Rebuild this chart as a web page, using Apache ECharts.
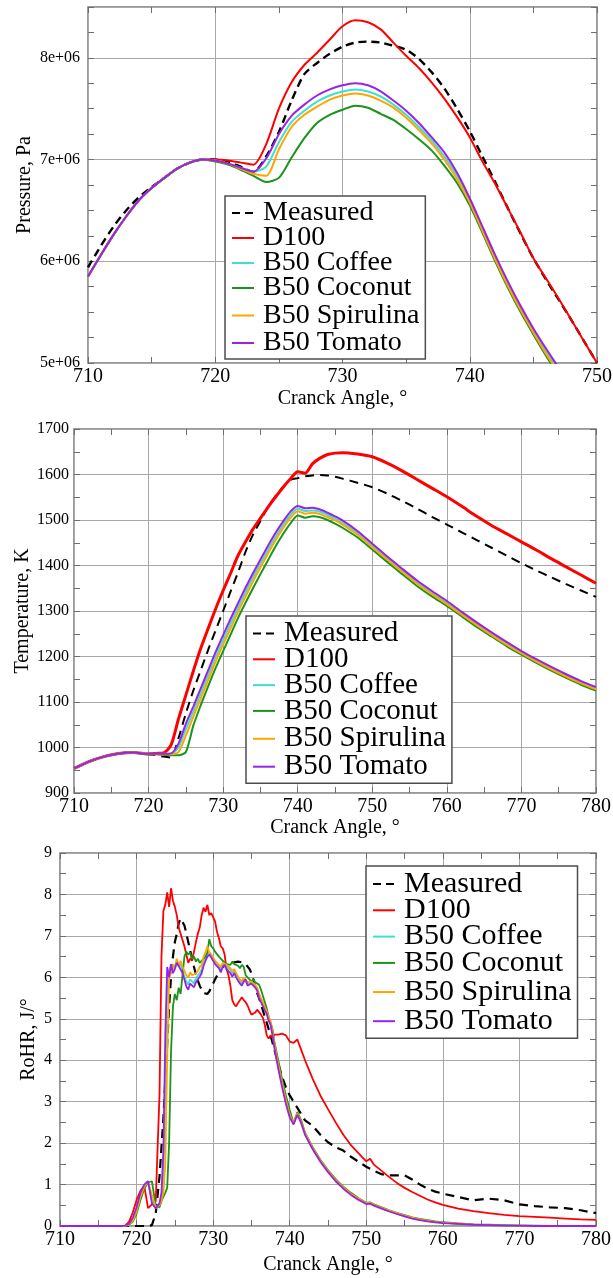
<!DOCTYPE html>
<html>
<head>
<meta charset="utf-8">
<script src="https://cdn.jsdelivr.net/npm/echarts@6/dist/echarts.min.js"></script>
<style>
  html, body { margin: 0; padding: 0; background: #ffffff; }
  #chart { width: 613px; height: 1278px; }
</style>
</head>
<body>
<div id="chart"></div>
<script>
// ---------- series names ----------
const seriesNames = ['Measured', 'D100', 'B50 Coffee', 'B50 Coconut', 'B50 Spirulina', 'B50 Tomato'];

// ---------- cylinder pressure (1e6 Pa) vs crank angle ----------
const pressureAngle = [710, 711, 712, 713, 714, 715, 716, 717, 718, 719, 720, 721, 722, 723, 724, 725, 726, 727, 728, 729,
  730, 731, 732, 733, 734, 735, 736, 737, 738, 739, 740, 741, 742, 743, 744, 745, 746, 747, 748, 749, 750];
const pressureMeasured = [5.94, 6.15, 6.34, 6.50, 6.63, 6.73, 6.82, 6.91, 6.97, 7.00, 7.00, 6.98, 6.93, 6.88, 7.03, 7.27, 7.58, 7.84, 7.95, 8.04,
  8.11, 8.15, 8.16, 8.15, 8.12, 8.08, 7.99, 7.86, 7.70, 7.50, 7.28, 7.03, 6.78, 6.52, 6.27, 6.03, 5.82, 5.62, 5.42, 5.21, 5.00];
const pressureD100 = [5.85, 6.06, 6.26, 6.44, 6.60, 6.72, 6.82, 6.91, 6.97, 7.00, 7.00, 6.99, 6.97, 6.95, 7.15, 7.50, 7.76, 7.93, 8.05, 8.18,
  8.31, 8.37, 8.35, 8.28, 8.15, 8.02, 7.90, 7.76, 7.60, 7.42, 7.22, 6.98, 6.76, 6.52, 6.28, 6.03, 5.83, 5.63, 5.42, 5.21, 5.00];
const pressureCoffee = [5.85, 6.06, 6.26, 6.44, 6.60, 6.72, 6.82, 6.91, 6.97, 7.00, 6.99, 6.96, 6.92, 6.88, 6.93, 7.17, 7.37, 7.48, 7.57, 7.63,
  7.67, 7.69, 7.67, 7.62, 7.54, 7.44, 7.32, 7.19, 7.03, 6.84, 6.60, 6.32, 6.04, 5.78, 5.54, 5.32, 5.11, 4.92, 4.72, 4.52, 4.32];
const pressureCoconut = [5.85, 6.06, 6.26, 6.44, 6.60, 6.72, 6.82, 6.91, 6.97, 7.00, 6.98, 6.95, 6.90, 6.84, 6.78, 6.82, 7.02, 7.21, 7.36, 7.44,
  7.49, 7.53, 7.51, 7.45, 7.39, 7.30, 7.20, 7.09, 6.94, 6.77, 6.55, 6.28, 6.00, 5.74, 5.50, 5.28, 5.07, 4.88, 4.68, 4.48, 4.28];
const pressureSpirulina = [5.85, 6.06, 6.26, 6.44, 6.60, 6.72, 6.82, 6.91, 6.97, 7.00, 6.99, 6.96, 6.91, 6.86, 6.84, 7.10, 7.32, 7.44, 7.52, 7.59,
  7.63, 7.65, 7.63, 7.58, 7.51, 7.41, 7.29, 7.16, 7.00, 6.81, 6.58, 6.30, 6.02, 5.76, 5.52, 5.30, 5.09, 4.90, 4.70, 4.50, 4.30];
const pressureTomato = [5.85, 6.06, 6.26, 6.44, 6.60, 6.72, 6.82, 6.91, 6.97, 7.00, 6.99, 6.96, 6.92, 6.88, 7.01, 7.25, 7.43, 7.54, 7.63, 7.69,
  7.73, 7.75, 7.73, 7.67, 7.58, 7.48, 7.36, 7.22, 7.07, 6.87, 6.62, 6.34, 6.06, 5.80, 5.56, 5.34, 5.14, 4.95, 4.75, 4.55, 4.35];

// ---------- in-cylinder temperature (K) vs crank angle ----------
const tempAngle = [710, 712, 714, 716, 718,
  720, 721, 722, 723, 724, 725, 726, 727, 728, 729, 730, 731, 732, 733, 734, 735, 736, 737, 738, 739, 740, 741, 742, 743, 744, 745,
  746, 748, 750, 752, 754, 756, 758, 760, 762, 764, 766, 768, 770, 772, 774, 776, 778, 780];
const tempMeasured = [954, 969, 980, 987, 989,
  985, 983, 980, 978, 1020, 1075, 1125, 1170, 1215, 1258, 1300, 1343, 1385, 1430, 1468, 1498, 1528, 1552, 1572, 1588, 1592, 1596, 1598, 1599, 1598, 1595,
  1591, 1582, 1572, 1558, 1542, 1525, 1507, 1490, 1473, 1456, 1439, 1422, 1405, 1389, 1374, 1359, 1345, 1331];
const tempD100 = [954, 969, 980, 987, 989,
  986, 987, 988, 1005, 1062, 1115, 1168, 1218, 1262, 1305, 1345, 1383, 1422, 1452, 1480, 1504, 1528, 1550, 1571, 1590, 1606, 1603, 1624, 1636, 1644, 1647,
  1648, 1645, 1639, 1625, 1608, 1589, 1570, 1551, 1530, 1508, 1488, 1470, 1452, 1434, 1415, 1397, 1379, 1361];
const tempCoffee = [954, 969, 980, 987, 989,
  986, 986, 986, 986, 1000, 1040, 1079, 1119, 1159, 1199, 1236, 1272, 1307, 1341, 1374, 1404, 1434, 1462, 1488, 1511, 1525, 1520, 1521, 1518, 1511, 1503,
  1494, 1472, 1444, 1416, 1389, 1363, 1340, 1318, 1295, 1272, 1250, 1229, 1209, 1191, 1174, 1158, 1143, 1130];
const tempCoconut = [954, 969, 980, 987, 989,
  985, 985, 984, 983, 983, 990, 1048, 1093, 1135, 1175, 1212, 1248, 1285, 1318, 1350, 1381, 1411, 1441, 1468, 1492, 1510, 1505, 1508, 1506, 1500, 1492,
  1483, 1462, 1435, 1408, 1381, 1355, 1332, 1311, 1288, 1265, 1244, 1223, 1204, 1186, 1169, 1153, 1138, 1125];
const tempSpirulina = [954, 969, 980, 987, 989,
  986, 985, 985, 985, 990, 1026, 1068, 1108, 1149, 1189, 1226, 1262, 1298, 1332, 1365, 1396, 1426, 1455, 1481, 1504, 1519, 1514, 1516, 1513, 1506, 1499,
  1490, 1468, 1440, 1413, 1386, 1360, 1337, 1315, 1292, 1269, 1247, 1226, 1207, 1189, 1172, 1156, 1141, 1128];
const tempTomato = [954, 969, 980, 987, 989,
  986, 986, 986, 987, 1008, 1052, 1090, 1130, 1170, 1210, 1247, 1283, 1317, 1351, 1383, 1413, 1443, 1471, 1496, 1518, 1531, 1526, 1527, 1523, 1516, 1508,
  1499, 1476, 1448, 1420, 1393, 1367, 1344, 1322, 1298, 1275, 1253, 1232, 1212, 1194, 1177, 1161, 1146, 1133];

// ---------- rate of heat release (J/deg) vs crank angle ----------
const rohrAngle = [710, 712, 714, 716, 717, 718, 718.5, 719, 719.5, 720, 720.5, 721, 721.5, 722, 722.5, 723,
  723.25, 723.5, 723.75, 724, 724.25, 724.5, 724.75, 725, 725.25, 725.5, 725.75, 726,
  726.25, 726.5, 726.75, 727, 727.25, 727.5, 727.75, 728, 728.25, 728.5, 728.75, 729,
  729.25, 729.5, 729.75, 730, 730.25, 730.5, 730.75, 731, 731.25, 731.5, 731.75, 732,
  732.25, 732.5, 732.75, 733, 733.25, 733.5, 733.75, 734, 734.25, 734.5, 734.75, 735,
  735.25, 735.5, 735.75, 736, 736.25, 736.5, 736.75, 737, 737.25, 737.5, 737.75, 738,
  738.5, 739, 739.5, 740, 740.5, 741, 741.5, 742,
  743, 744, 745, 746, 747, 748, 749, 750,
  750.5, 751, 752, 753, 754, 755, 756, 757, 758, 759, 760,
  762, 764, 766, 768, 770, 772, 774, 776, 778, 780];
const rohrMeasured = [0, 0, 0, 0, 0, 0, 0, 0, 0, 0, 0, 0, 0, 0.02, 0.3, 1.2,
  1.9, 2.6, 3.5, 4.4, 5.3, 6.0, 6.5, 6.85, 7.05, 7.3, 7.42, 7.38,
  7.25, 7.06, 6.85, 6.65, 6.45, 6.25, 6.08, 5.92, 5.8, 5.7, 5.62, 5.58,
  5.6, 5.66, 5.76, 5.85, 5.95, 6.04, 6.12, 6.2, 6.25, 6.28, 6.3, 6.32,
  6.34, 6.35, 6.36, 6.37, 6.38, 6.37, 6.36, 6.34, 6.32, 6.28, 6.2, 6.1,
  5.95, 5.78, 5.62, 5.5, 5.35, 5.2, 5.05, 4.9, 4.75, 4.6, 4.43, 4.25,
  3.92, 3.6, 3.35, 3.15, 3.0, 2.85, 2.7, 2.55,
  2.42, 2.2, 2.02, 1.9, 1.82, 1.67, 1.55, 1.43,
  1.38, 1.33, 1.25, 1.22, 1.22, 1.22, 1.12, 1.0, 0.9, 0.83, 0.78,
  0.7, 0.62, 0.66, 0.62, 0.52, 0.48, 0.45, 0.43, 0.38, 0.31];
const rohrD100 = [0, 0, 0, 0, 0, 0, 0.01, 0.1, 0.32, 0.63, 0.85, 0.97, 0.43, 0.52, 0.6, 3.2,
  6.5, 7.6, 7.75, 8.05, 7.7, 8.15, 7.85, 7.7, 7.5, 7.2, 7.05, 6.9,
  6.75, 6.55, 6.35, 6.45, 6.4, 6.62, 6.85, 7.05, 7.2, 7.5, 7.68, 7.58,
  7.75, 7.5, 7.55, 7.45, 7.35, 7.1, 6.95, 6.75, 6.7, 6.55, 6.2, 6.05,
  5.8, 5.45, 5.35, 5.3, 5.38, 5.45, 5.52, 5.45, 5.4, 5.32, 5.2, 5.1,
  5.08, 5.15, 5.22, 5.18, 5.1, 5.02, 4.85, 4.6, 4.52, 4.6, 4.55, 4.62,
  4.62, 4.64, 4.6, 4.45, 4.42, 4.5, 4.25, 4.0,
  3.55, 3.15, 2.82, 2.5, 2.2, 1.95, 1.75, 1.56,
  1.62, 1.48, 1.33, 1.18, 1.04, 0.92, 0.82, 0.73, 0.64, 0.57, 0.51,
  0.42, 0.36, 0.31, 0.27, 0.24, 0.22, 0.2, 0.18, 0.16, 0.15];
const rohrCoffee = [0, 0, 0, 0, 0, 0, 0.01, 0.04, 0.17, 0.4, 0.75, 0.98, 1.08, 0.62, 0.42, 0.55,
  0.7, 1.2, 3.2, 5.9, 6.15, 6.3, 6.2, 6.28, 6.4, 6.25, 6.35, 6.15,
  6.02, 5.9, 5.82, 5.95, 5.9, 5.85, 5.98, 6.05, 6.1, 6.2, 6.35, 6.45,
  6.55, 6.62, 6.55, 6.45, 6.38, 6.3, 6.28, 6.2, 6.3, 6.32, 6.25, 6.28,
  6.18, 6.1, 6.15, 6.05, 5.98, 5.9, 5.85, 5.95, 5.98, 5.85, 5.82, 5.88,
  5.88, 5.8, 5.72, 5.55, 5.45, 5.35, 5.25, 5.15, 5.0, 4.9, 4.65, 4.35,
  3.85, 3.4, 3.0, 2.65, 2.47, 2.7, 2.5, 2.22,
  1.87, 1.57, 1.32, 1.1, 0.92, 0.77, 0.65, 0.54,
  0.55, 0.5, 0.43, 0.36, 0.3, 0.24, 0.19, 0.15, 0.12, 0.1, 0.08,
  0.05, 0.03, 0.02, 0.01, 0.01, 0, 0, 0, 0, 0];
const rohrCoconut = [0, 0, 0, 0, 0, 0, 0, 0.02, 0.1, 0.3, 0.62, 0.9, 1.05, 1.08, 0.5, 0.45,
  0.6, 0.7, 0.8, 0.92, 2.0, 4.2, 5.3, 5.6, 5.45, 5.75, 5.6, 6.05,
  6.5, 6.62, 6.55, 6.6, 6.45, 6.5, 6.38, 6.45, 6.35, 6.4, 6.42, 6.5,
  6.6, 6.92, 6.75, 6.7, 6.62, 6.6, 6.5, 6.45, 6.4, 6.38, 6.32, 6.35,
  6.3, 6.38, 6.32, 6.35, 6.28, 6.22, 6.3, 6.25, 6.05, 6.0, 5.95, 5.9,
  5.95, 5.88, 5.9, 5.82, 5.7, 5.55, 5.4, 5.25, 5.05, 5.02, 4.75, 4.45,
  4.0, 3.55, 3.15, 2.8, 2.48, 2.75, 2.55, 2.25,
  1.9, 1.6, 1.35, 1.13, 0.95, 0.8, 0.67, 0.56,
  0.57, 0.52, 0.45, 0.38, 0.32, 0.26, 0.21, 0.17, 0.14, 0.11, 0.09,
  0.06, 0.04, 0.03, 0.02, 0.01, 0.01, 0, 0, 0, 0];
const rohrSpirulina = [0, 0, 0, 0, 0, 0, 0, 0.03, 0.12, 0.35, 0.7, 0.95, 1.07, 0.75, 0.45, 0.5,
  0.6, 0.8, 1.5, 4.0, 6.0, 6.1, 6.3, 6.2, 6.45, 6.3, 6.4, 6.25,
  6.15, 6.05, 6.0, 6.12, 6.05, 6.02, 6.1, 6.15, 6.25, 6.3, 6.5, 6.6,
  6.75, 6.6, 6.55, 6.48, 6.4, 6.35, 6.3, 6.25, 6.35, 6.38, 6.3, 6.3,
  6.22, 6.15, 6.2, 6.1, 6.02, 5.95, 5.9, 6.0, 5.98, 5.88, 5.85, 5.9,
  5.9, 5.82, 5.75, 5.6, 5.5, 5.4, 5.28, 5.18, 5.05, 4.95, 4.7, 4.4,
  3.9, 3.45, 3.05, 2.68, 2.48, 2.72, 2.52, 2.24,
  1.88, 1.58, 1.33, 1.11, 0.93, 0.78, 0.66, 0.55,
  0.56, 0.51, 0.44, 0.37, 0.31, 0.25, 0.2, 0.16, 0.13, 0.1, 0.08,
  0.06, 0.04, 0.02, 0.01, 0.01, 0, 0, 0, 0, 0];
const rohrTomato = [0, 0, 0, 0, 0, 0, 0.01, 0.05, 0.2, 0.45, 0.8, 1.0, 1.08, 0.55, 0.42, 0.55,
  0.8, 1.8, 4.6, 6.25, 6.0, 6.32, 6.1, 6.2, 6.35, 6.28, 6.3, 6.1,
  5.95, 5.78, 5.7, 5.85, 5.82, 5.76, 5.88, 5.95, 6.02, 6.1, 6.28, 6.4,
  6.5, 6.55, 6.48, 6.4, 6.32, 6.28, 6.22, 6.12, 6.25, 6.3, 6.2, 6.22,
  6.1, 6.02, 6.1, 6.0, 5.92, 5.85, 5.8, 5.9, 5.95, 5.8, 5.78, 5.85,
  5.86, 5.75, 5.68, 5.5, 5.4, 5.3, 5.2, 5.12, 4.95, 4.85, 4.6, 4.3,
  3.8, 3.35, 2.95, 2.62, 2.45, 2.68, 2.48, 2.2,
  1.85, 1.55, 1.3, 1.08, 0.9, 0.75, 0.63, 0.53,
  0.54, 0.49, 0.42, 0.35, 0.29, 0.23, 0.18, 0.14, 0.11, 0.09, 0.07,
  0.05, 0.03, 0.02, 0.01, 0.01, 0, 0, 0, 0, 0];

// ---------- styling ----------
const SERIF = "'Liberation Serif', 'Times New Roman', serif";
const lineColors = ['#000000', '#ff0000', '#40e0d0', '#1a941a', '#ffa500', '#9a22e6'];
const GRID_LINE = '#a8a8a8';
const FRAME = '#7a7a7a';
const TICK = '#6e6e6e';

const panels = [
  {
    grid: { left: 88, right: 16, top: 7, bottom: 915 },
    xMin: 710, xMax: 750, yMin: 5e6, yMax: 8.5e6, yStep: 1e6, yTickStep: 0.25e6,
    yName: 'Pressure, Pa', yNameGap: 53, xNameGap: 26, yLabelMargin: 8,
    yFormat: v => (Number.isInteger(v / 1e6) ? (v / 1e6) + 'e+06' : ''),
    angle: pressureAngle,
    values: [pressureMeasured, pressureD100, pressureCoffee, pressureCoconut, pressureSpirulina, pressureTomato],
    scale: 1e6, widths: [2.4, 2, 2, 2, 2, 2], dash: [8, 5], smooth: 0.25,
    legend: { left: 225, top: 196, fontSize: 28, rowStep: 25, lastStep: 30 }
  },
  {
    grid: { left: 74, right: 17, top: 429, bottom: 485 },
    xMin: 710, xMax: 780, yMin: 900, yMax: 1700, yStep: 100, yTickStep: 50,
    yName: 'Temperature, K', yNameGap: 41, xNameGap: 25, yLabelMargin: 5,
    yFormat: v => String(v),
    angle: tempAngle,
    values: [tempMeasured, tempD100, tempCoffee, tempCoconut, tempSpirulina, tempTomato],
    scale: 1, widths: [2, 3, 2, 2, 2, 2], dash: [9, 6], smooth: 0.25,
    legend: { left: 246, top: 616, fontSize: 29, rowStep: 25.8, lastStep: 30 }
  },
  {
    grid: { left: 60, right: 17, top: 853, bottom: 52 },
    xMin: 710, xMax: 780, yMin: 0, yMax: 9, yStep: 1, yTickStep: 0.5,
    yName: 'RoHR, J/°', yNameGap: 21, xNameGap: 29, yLabelMargin: 8,
    yFormat: v => String(v),
    angle: rohrAngle,
    values: [rohrMeasured, rohrD100, rohrCoffee, rohrCoconut, rohrSpirulina, rohrTomato],
    scale: 1, widths: [2.2, 1.8, 1.8, 1.8, 1.8, 1.8], dash: [9, 6], smooth: false,
    legend: { left: 366, top: 866, fontSize: 30, rowStep: 26.3, lastStep: 32 }
  }
];

const grids = [], xAxes = [], yAxes = [], series = [], legends = [];

function tickAxis(gridIndex, min, max, interval, position) {
  return {
    type: 'value', gridIndex, min, max, interval, position, silent: true,
    axisLine: { show: false, onZero: false },
    axisTick: { show: true, inside: true, length: 6, lineStyle: { color: TICK, width: 1 } },
    axisLabel: { show: false },
    splitLine: { show: false }
  };
}

panels.forEach((p, g) => {
  grids.push(Object.assign({
    show: true, borderColor: FRAME, borderWidth: 1.5, backgroundColor: 'transparent',
    containLabel: false, outerBoundsMode: 'none'
  }, p.grid));

  // crank-angle axes: labelled bottom axis plus tick rows on bottom and top
  xAxes.push({
    type: 'value', gridIndex: g, min: p.xMin, max: p.xMax, interval: 10, position: 'bottom',
    axisLine: { show: false, onZero: false },
    axisTick: { show: false },
    splitLine: { show: true, lineStyle: { color: GRID_LINE, width: 1 } },
    axisLabel: { fontFamily: SERIF, fontSize: 20, color: '#000', margin: 4 },
    name: 'Cranck Angle, °', nameLocation: 'middle', nameGap: p.xNameGap, nameMoveOverlap: false,
    nameTextStyle: { fontFamily: SERIF, fontSize: 20, color: '#000' }
  });
  xAxes.push(tickAxis(g, p.xMin, p.xMax, 5, 'bottom'));
  xAxes.push(tickAxis(g, p.xMin, p.xMax, 5, 'top'));

  // value axes: labelled left axis plus tick rows on left and right
  yAxes.push({
    type: 'value', gridIndex: g, min: p.yMin, max: p.yMax, interval: p.yStep, position: 'left',
    axisLine: { show: false, onZero: false },
    axisTick: { show: false },
    splitLine: { show: true, lineStyle: { color: GRID_LINE, width: 1 } },
    axisLabel: { fontFamily: SERIF, fontSize: 16, color: '#000', margin: p.yLabelMargin, formatter: p.yFormat },
    name: p.yName, nameLocation: 'middle', nameGap: p.yNameGap, nameMoveOverlap: false,
    nameTextStyle: { fontFamily: SERIF, fontSize: 20, color: '#000' }
  });
  yAxes.push(tickAxis(g, p.yMin, p.yMax, p.yTickStep, 'left'));
  yAxes.push(tickAxis(g, p.yMin, p.yMax, p.yTickStep, 'right'));

  seriesNames.forEach((name, i) => {
    series.push({
      type: 'line', name, xAxisIndex: 3 * g, yAxisIndex: 3 * g,
      data: p.angle.map((a, k) => [a, p.values[i][k] * p.scale]),
      showSymbol: false, symbol: 'none', smooth: p.smooth, clip: true, silent: true,
      emphasis: { disabled: true },
      itemStyle: { color: lineColors[i] },
      lineStyle: { color: lineColors[i], width: p.widths[i], type: i === 0 ? p.dash : 'solid' }
    });
  });

  // legend rows are one font-size tall; a negative gap tightens them,
  // and the row before the last one gets extra height
  const L = p.legend;
  const gap = L.rowStep - L.fontSize;
  legends.push({
    left: L.left, top: L.top, orient: 'vertical', selectedMode: false,
    itemWidth: 22, itemHeight: 14, itemGap: gap, padding: [3, 6, 2, 6],
    backgroundColor: '#ffffff', borderColor: '#4d4d4d', borderWidth: 1.5, borderRadius: 0,
    itemStyle: { opacity: 0 },
    textStyle: { fontFamily: SERIF, fontSize: L.fontSize, color: '#000' },
    data: seriesNames.map(n => ({
      name: n,
      textStyle: {
        fontFamily: SERIF, fontSize: L.fontSize, color: '#000', padding: [0, 0, 0, 4],
        lineHeight: n === 'B50 Spirulina' ? L.lastStep - gap : L.fontSize
      }
    }))
  });
});

const chart = echarts.init(document.getElementById('chart'), null, { renderer: 'canvas' });
chart.setOption({
  animation: false,
  backgroundColor: '#ffffff',
  grid: grids,
  xAxis: xAxes,
  yAxis: yAxes,
  legend: legends,
  series: series
});
</script>
</body>
</html>
